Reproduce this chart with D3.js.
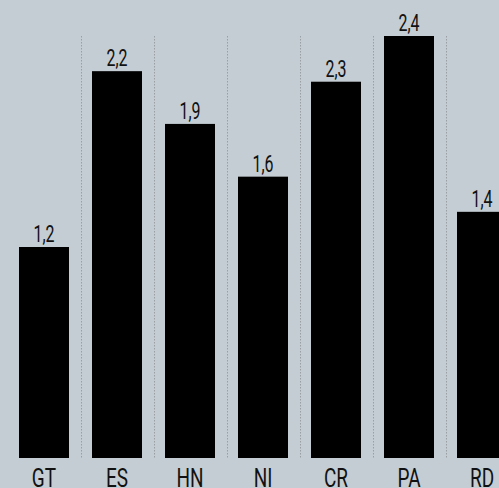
<!DOCTYPE html>
<html lang="es">
<head>
<meta charset="UTF-8">
<title>Bar chart</title>
<script src="https://d3js.org/d3.v7.min.js"></script>
<style>
    html, body { margin: 0; padding: 0; background: #c4cdd3; }
    svg { display: block; }
    .lbl { font-family: Roboto, "DejaVu Sans Condensed", sans-serif; fill: #111; }
</style>
</head>
<body>
<div id="chart"></div>
<script>
// data (bar heights; CR bar is drawn shorter than its label)
const categories = ['GT', 'ES', 'HN', 'NI', 'CR', 'PA', 'RD'];
const values = [1.2, 2.2, 1.9, 1.6, 2.14, 2.4, 1.4];
const valueLabels = ['1,2', '2,2', '1,9', '1,6', '2,3', '2,4', '1,4'];

const width = 499, height = 488;
const baseY = 458, topY = 36;

const svg = d3.select('#chart').append('svg')
    .attr('width', width)
    .attr('height', height);

const pad = 23 / 73;
const x = d3.scaleBand()
    .domain(categories)
    .range([7.5, 7.5 + 73 * categories.length])
    .paddingInner(pad)
    .paddingOuter(pad / 2);

const y = d3.scaleLinear()
    .domain([0, 2.4])
    .range([baseY, topY]);

// dotted separators between categories
svg.selectAll('.sep')
    .data(categories.slice(1))
    .enter().append('line')
    .attr('class', 'sep')
    .attr('x1', d => Math.round(x(d) - (x.step() - x.bandwidth()) / 2) + 0.5)
    .attr('x2', d => Math.round(x(d) - (x.step() - x.bandwidth()) / 2) + 0.5)
    .attr('y1', topY)
    .attr('y2', baseY)
    .style('stroke', '#9a9fa3')
    .style('stroke-width', 1)
    .style('stroke-dasharray', '1.5,1.5');

svg.selectAll('.bar')
    .data(categories)
    .enter().append('rect')
    .attr('class', 'bar')
    .attr('x', d => x(d))
    .attr('y', (d, i) => y(values[i]))
    .attr('width', x.bandwidth())
    .attr('height', (d, i) => baseY - y(values[i]))
    .style('fill', '#000');

// value labels (condensed look by squeezing horizontally)
svg.selectAll('.val')
    .data(categories)
    .enter().append('text')
    .attr('class', 'lbl val')
    .attr('transform', (d, i) => `translate(${x(d) + x.bandwidth() / 2},${y(values[i]) - 5}) scale(0.68,1)`)
    .attr('text-anchor', 'middle')
    .style('font-size', '23.5px')
    .text((d, i) => valueLabels[i]);

// category labels
svg.selectAll('.cat')
    .data(categories)
    .enter().append('text')
    .attr('class', 'lbl cat')
    .attr('transform', d => `translate(${x(d) + x.bandwidth() / 2},487) scale(0.76,1)`)
    .attr('text-anchor', 'middle')
    .style('font-size', '25px')
    .text(d => d);
</script>
</body>
</html>
